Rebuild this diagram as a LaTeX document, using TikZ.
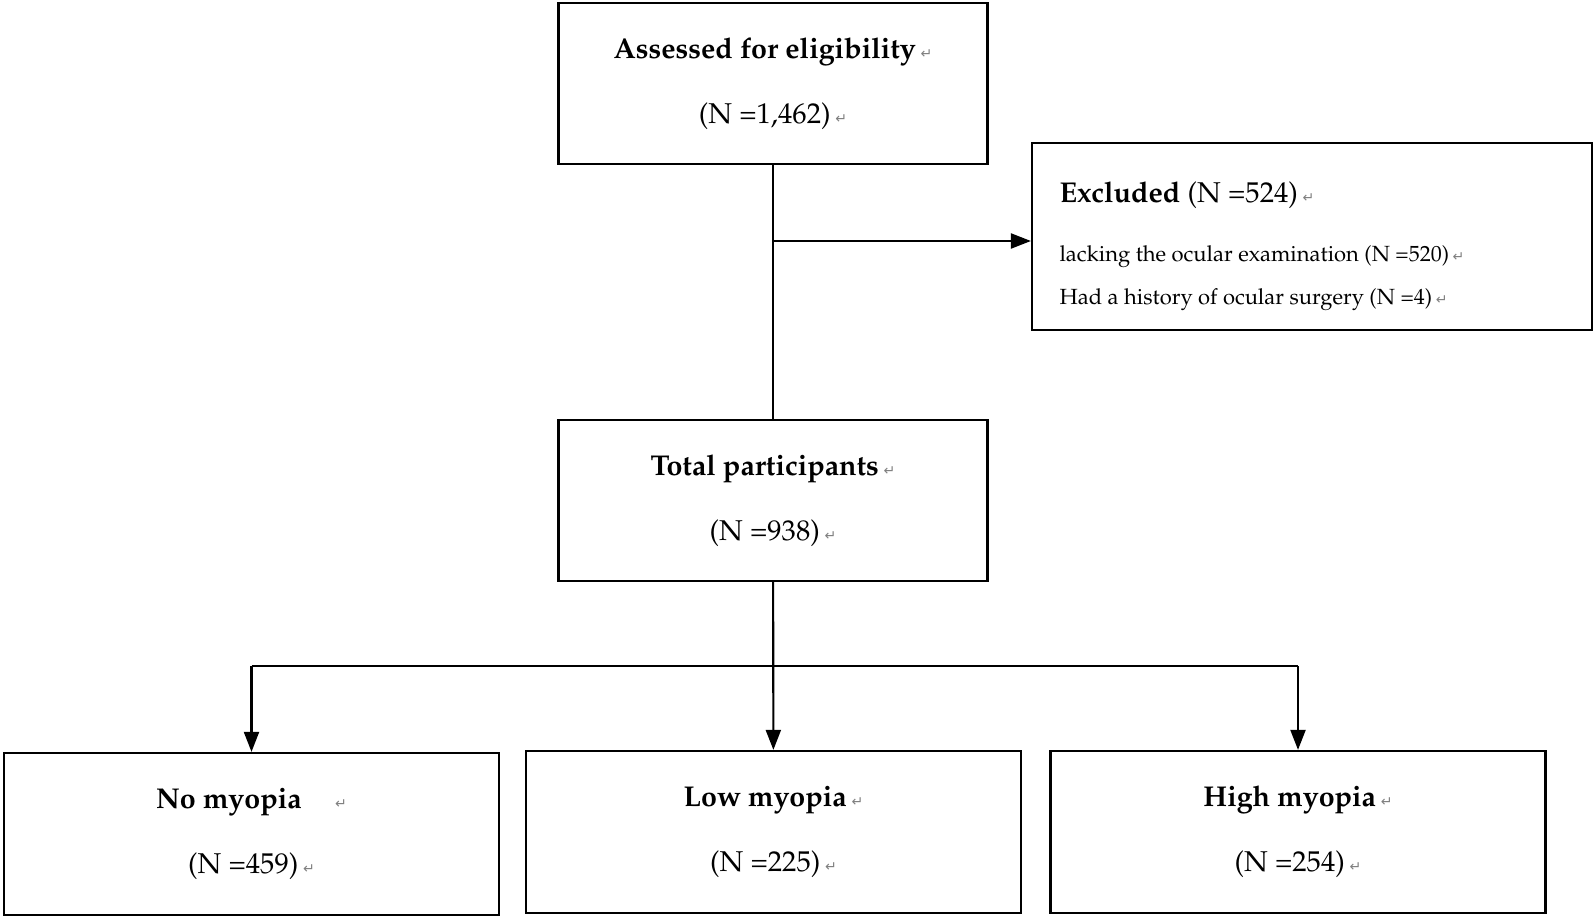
\documentclass[tikz,border=0pt]{standalone}
\usepackage{fontspec}
\usepackage{tikz}
\usetikzlibrary{arrows.meta, calc}
\newfontfamily\retfont{DejaVu Sans}
\newcommand\pal{\fontencoding{T1}\fontfamily{ppl}\selectfont}
\newcommand\rt{\,{\retfont\color{gray}\fontsize{8}{8}\selectfont ↵}}

\begin{document}
\begin{tikzpicture}[x=0.02cm, y=-0.02cm,
        box/.style={draw, line width=1.3pt, align=center, inner sep=0pt,
            font=\fontsize{16.3}{19.5}\pal\selectfont},
        smallbox/.style={box, minimum width=8.58cm, minimum height=3.22cm},
        groupbox/.style={box, minimum width=9.9cm, minimum height=3.24cm},
        link/.style={line width=1.2pt},
        arrow/.style={link, -{Triangle[length=0.4cm, width=0.3cm]}}]
        \useasboundingbox (0,0) rectangle (1594,918);

        % Boxes
        \node[smallbox] (assessed) at (773,83.5) {\textbf{Assessed for eligibility}\rt\\[17.4pt](N =1,462)\rt};
        \node[box, minimum width=11.2cm, minimum height=3.74cm, align=flush left,
            text width=10.1cm, inner xsep=0.55cm] (excluded) at (1312,236.5)
            {\rule{0pt}{23pt}\textbf{Excluded} (N =524)\rt\\[14pt]
             {\fontsize{12.5}{15}\pal\selectfont lacking the ocular examination (N =520)\rt}\\[5pt]
             {\fontsize{12.5}{15}\pal\selectfont Had a history of ocular surgery (N =4)\rt}};
        \node[smallbox] (total) at (773,500.5) {\textbf{Total participants}\rt\\[17.4pt](N =938)\rt};
        \node[groupbox] (nomyo) at (251.5,834) {\textbf{No myopia}\quad\rt\\[17.4pt](N =459)\rt};
        \node[groupbox] (lowmyo) at (773.5,832) {\textbf{Low myopia}\rt\\[17.4pt](N =225)\rt};
        \node[groupbox] (highmyo) at (1298,832) {\textbf{High myopia}\rt\\[17.4pt](N =254)\rt};

        % Exclusion branch
        \draw[link] (assessed) -- (total);
        \coordinate (split) at (773,241);
        \draw[arrow] (split) -- (split -| excluded.west);

        % Myopia groups
        \coordinate (fork) at (773,666);
        \draw[link] (fork -| nomyo.north) -- (fork -| highmyo.north);
        \draw[arrow] (total) -- (lowmyo);
        \draw[arrow] (fork -| nomyo.north) -- (nomyo);
        \draw[arrow] (fork -| highmyo.north) -- (highmyo);
    \end{tikzpicture}
\end{document}
